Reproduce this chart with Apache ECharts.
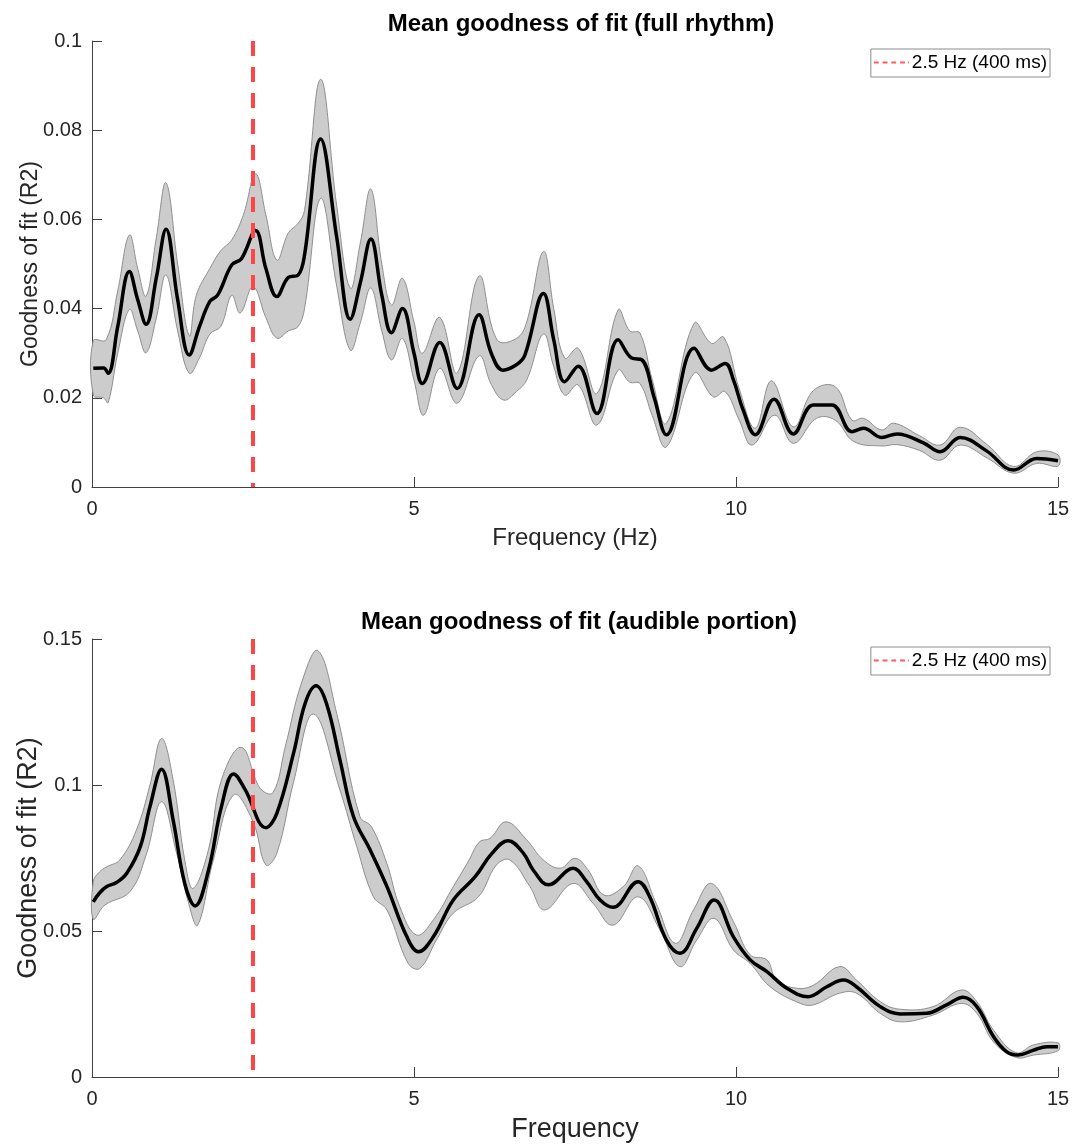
<!DOCTYPE html>
<html>
<head>
<meta charset="utf-8">
<script src="https://cdn.jsdelivr.net/npm/echarts@6/dist/echarts.min.js"></script>
<style>
html,body{margin:0;padding:0;background:#fff;}
#chart{width:1079px;height:1146px;}
</style>
</head>
<body>
<div id="chart"></div>
<script>
// ---------- Labels ----------
const titleTop = 'Mean goodness of fit (full rhythm)';
const titleBottom = 'Mean goodness of fit (audible portion)';
const yName = 'Goodness of fit (R2)';
const xNameTop = 'Frequency (Hz)';
const xNameBottom = 'Frequency';
const refName = '2.5 Hz (400 ms)';
const refFreq = 2.5;

// ---------- Top panel (full rhythm): [frequency, R2] ----------
const topMean = [
  [0.02,0.0266],[0.18,0.0267],[0.25,0.0255],[0.40,0.0360],[0.58,0.0483],[0.71,0.0420],[0.84,0.0365],
  [1.00,0.0470],[1.15,0.0578],[1.33,0.0420],[1.51,0.0296],[1.67,0.0360],[1.83,0.0416],[1.95,0.0430],
  [2.17,0.0498],[2.32,0.0512],[2.54,0.0575],[2.70,0.0490],[2.87,0.0427],[3.05,0.0470],[3.20,0.0475],
  [3.30,0.0520],[3.55,0.0780],[3.80,0.0560],[4.01,0.0376],[4.17,0.0460],[4.33,0.0556],[4.50,0.0430],
  [4.65,0.0346],[4.82,0.0400],[5.00,0.0300],[5.13,0.0232],[5.40,0.0324],[5.67,0.0221],[6.01,0.0386],
  [6.20,0.0300],[6.38,0.0262],[6.59,0.0274],[6.72,0.0295],[7.01,0.0434],[7.17,0.0330],[7.34,0.0236],
  [7.55,0.0271],[7.84,0.0165],[8.17,0.0330],[8.38,0.0289],[8.54,0.0285],[8.73,0.0200],[8.92,0.0117],
  [9.35,0.0311],[9.62,0.0262],[9.83,0.0277],[9.96,0.0240],[10.11,0.0173],[10.30,0.0117],[10.59,0.0197],
  [10.89,0.0119],[11.20,0.0184],[11.49,0.0184],[11.80,0.0124],[11.98,0.0132],[12.26,0.0111],[12.50,0.0119],
  [12.91,0.0099],[13.17,0.0079],[13.48,0.0111],[13.89,0.0081],[14.31,0.0038],[14.67,0.0064],[15.00,0.0059]
];
const topUpper = [
  [0.02,0.0328],[0.22,0.0330],[0.40,0.0440],[0.58,0.0565],[0.71,0.0490],[0.84,0.0428],[1.00,0.0560],
  [1.15,0.0682],[1.33,0.0500],[1.51,0.0339],[1.62,0.0430],[1.83,0.0490],[2.00,0.0530],[2.17,0.0554],
  [2.35,0.0610],[2.54,0.0702],[2.70,0.0610],[2.87,0.0509],[3.05,0.0570],[3.20,0.0591],[3.30,0.0620],
  [3.55,0.0914],[3.80,0.0630],[4.01,0.0446],[4.17,0.0550],[4.33,0.0668],[4.50,0.0500],[4.65,0.0408],
  [4.82,0.0468],[5.00,0.0370],[5.13,0.0300],[5.40,0.0380],[5.67,0.0256],[6.01,0.0473],[6.29,0.0330],
  [6.59,0.0333],[6.75,0.0370],[7.01,0.0528],[7.17,0.0400],[7.34,0.0289],[7.55,0.0311],[7.84,0.0210],
  [8.17,0.0397],[8.35,0.0350],[8.51,0.0345],[8.70,0.0240],[8.92,0.0143],[9.35,0.0367],[9.62,0.0322],
  [9.81,0.0336],[10.05,0.0220],[10.30,0.0132],[10.55,0.0238],[10.89,0.0135],[11.20,0.0216],[11.54,0.0225],
  [11.80,0.0150],[11.98,0.0154],[12.26,0.0128],[12.45,0.0143],[12.85,0.0115],[13.17,0.0094],[13.48,0.0134],
  [13.90,0.0095],[14.31,0.0046],[14.67,0.0079],[15.00,0.0072]
];
const topLower = [
  [0.02,0.0206],[0.18,0.0200],[0.25,0.0189],[0.40,0.0300],[0.58,0.0398],[0.71,0.0350],[0.84,0.0301],
  [1.00,0.0380],[1.15,0.0475],[1.33,0.0350],[1.51,0.0255],[1.67,0.0290],[1.83,0.0343],[2.00,0.0360],
  [2.17,0.0430],[2.30,0.0390],[2.50,0.0449],[2.70,0.0380],[2.87,0.0334],[3.05,0.0350],[3.20,0.0360],
  [3.30,0.0400],[3.55,0.0647],[3.80,0.0450],[4.01,0.0307],[4.17,0.0370],[4.33,0.0446],[4.50,0.0350],
  [4.65,0.0285],[4.82,0.0333],[5.00,0.0240],[5.15,0.0161],[5.40,0.0266],[5.67,0.0188],[6.01,0.0294],
  [6.20,0.0230],[6.39,0.0195],[6.59,0.0214],[6.75,0.0240],[7.01,0.0343],[7.17,0.0270],[7.34,0.0206],
  [7.55,0.0229],[7.84,0.0139],[8.17,0.0262],[8.35,0.0235],[8.51,0.0232],[8.70,0.0160],[8.92,0.0090],
  [9.35,0.0255],[9.65,0.0202],[9.83,0.0214],[10.05,0.0150],[10.25,0.0094],[10.60,0.0161],[10.89,0.0098],
  [11.25,0.0154],[11.54,0.0150],[11.83,0.0102],[12.26,0.0092],[12.50,0.0095],[12.85,0.0082],[13.17,0.0060],
  [13.48,0.0094],[13.90,0.0065],[14.31,0.0031],[14.67,0.0053],[15.00,0.0047]
];

// ---------- Bottom panel (audible portion): [frequency, R2] ----------
const botMean = [
  [0.02,0.0600],[0.12,0.0631],[0.23,0.0652],[0.38,0.0666],[0.54,0.0698],[0.75,0.0789],[0.90,0.0926],
  [1.08,0.1054],[1.26,0.0880],[1.44,0.0663],[1.60,0.0586],[1.81,0.0709],[2.01,0.0926],[2.20,0.1038],
  [2.38,0.0983],[2.70,0.0854],[2.87,0.0903],[3.13,0.1109],[3.31,0.1280],[3.48,0.1340],[3.64,0.1280],
  [3.85,0.1086],[4.06,0.0892],[4.32,0.0777],[4.58,0.0652],[4.89,0.0480],[5.07,0.0429],[5.30,0.0480],
  [5.61,0.0606],[5.95,0.0686],[6.21,0.0766],[6.46,0.0809],[6.70,0.0766],[6.85,0.0709],[7.09,0.0658],
  [7.47,0.0715],[7.68,0.0669],[7.89,0.0606],[8.09,0.0581],[8.48,0.0669],[8.66,0.0617],[8.92,0.0469],
  [9.13,0.0424],[9.39,0.0509],[9.66,0.0606],[9.96,0.0480],[10.22,0.0401],[10.48,0.0361],[10.79,0.0304],
  [11.12,0.0275],[11.41,0.0309],[11.67,0.0332],[11.87,0.0309],[12.24,0.0241],[12.55,0.0216],[12.96,0.0218],
  [13.27,0.0247],[13.53,0.0273],[13.74,0.0241],[14.00,0.0138],[14.20,0.0087],[14.38,0.0075],[14.62,0.0092],
  [14.83,0.0104],[15.00,0.0104]
];
const botUpper = [
  [0.02,0.0669],[0.12,0.0703],[0.23,0.0720],[0.43,0.0743],[0.69,0.0846],[0.90,0.1000],[1.08,0.1159],
  [1.26,0.1017],[1.44,0.0743],[1.57,0.0646],[1.81,0.0780],[2.01,0.1017],[2.32,0.1129],[2.61,0.0989],
  [2.81,0.0974],[3.00,0.1130],[3.26,0.1354],[3.51,0.1460],[3.80,0.1245],[4.16,0.0892],[4.34,0.0857],
  [4.58,0.0730],[4.78,0.0583],[5.04,0.0486],[5.30,0.0538],[5.61,0.0652],[5.84,0.0737],[6.02,0.0806],
  [6.18,0.0817],[6.43,0.0874],[6.75,0.0812],[7.01,0.0743],[7.27,0.0715],[7.50,0.0749],[7.70,0.0710],
  [7.95,0.0623],[8.25,0.0652],[8.48,0.0723],[8.76,0.0595],[9.06,0.0458],[9.34,0.0572],[9.62,0.0663],
  [9.96,0.0532],[10.22,0.0418],[10.48,0.0401],[10.63,0.0332],[10.94,0.0304],[11.20,0.0314],[11.61,0.0378],
  [11.87,0.0332],[12.24,0.0258],[12.55,0.0232],[13.06,0.0241],[13.50,0.0298],[13.74,0.0258],[14.00,0.0160],
  [14.35,0.0083],[14.62,0.0110],[15.00,0.0117]
];
const botLower = [
  [0.02,0.0540],[0.20,0.0589],[0.59,0.0635],[0.84,0.0760],[1.08,0.0943],[1.31,0.0770],[1.50,0.0595],
  [1.64,0.0520],[1.88,0.0740],[2.20,0.0966],[2.50,0.0875],[2.70,0.0726],[2.87,0.0766],[3.13,0.1010],
  [3.44,0.1243],[3.85,0.0983],[4.11,0.0790],[4.37,0.0617],[4.58,0.0572],[4.91,0.0389],[5.09,0.0372],
  [5.35,0.0470],[5.61,0.0561],[6.00,0.0617],[6.28,0.0726],[6.49,0.0743],[6.80,0.0652],[7.03,0.0572],
  [7.47,0.0663],[7.78,0.0595],[8.09,0.0520],[8.48,0.0617],[8.82,0.0503],[9.13,0.0378],[9.39,0.0469],
  [9.66,0.0543],[9.96,0.0435],[10.22,0.0389],[10.53,0.0309],[11.00,0.0252],[11.20,0.0247],[11.61,0.0287],
  [11.87,0.0287],[12.24,0.0218],[12.55,0.0189],[13.06,0.0212],[13.50,0.0252],[13.74,0.0218],[14.00,0.0120],
  [14.35,0.0067],[14.62,0.0075],[15.00,0.0090]
];

// ---------- Axis ranges / ticks ----------
const xMin = 0, xMax = 15, xStep = 5;
const topYMax = 0.1, topYStep = 0.02;
const botYMax = 0.15, botYStep = 0.05;

const FONT = '"Liberation Sans", Arial, Helvetica, sans-serif';
const AX = '#404040';
const TXT = '#262626';

function xAxisCfg(gi, name, nameSize) {
  return {
    type: 'value', gridIndex: gi, min: xMin, max: xMax, interval: xStep,
    name: name, nameLocation: 'middle', nameGap: 39,
    nameTextStyle: { fontSize: nameSize, color: TXT, fontFamily: FONT },
    axisLine: { show: true, lineStyle: { color: AX, width: 1 } },
    axisTick: { show: true, inside: true, length: 10, lineStyle: { color: AX } },
    axisLabel: { fontSize: 20, color: TXT, margin: 12, fontFamily: FONT },
    splitLine: { show: false }
  };
}
function yAxisCfg(gi, max, step, nameSize) {
  return {
    type: 'value', gridIndex: gi, min: 0, max: max, interval: step,
    name: yName, nameLocation: 'middle', nameGap: 50, nameMoveOverlap: false,
    nameTextStyle: { fontSize: nameSize, color: TXT, fontFamily: FONT },
    axisLine: { show: true, lineStyle: { color: AX, width: 1 } },
    axisTick: { show: true, inside: true, length: 10, lineStyle: { color: AX } },
    axisLabel: { fontSize: 20, color: TXT, margin: 10, fontFamily: FONT },
    splitLine: { show: false }
  };
}
function bandSeries(gi, upper, lower) {
  return {
    type: 'custom', xAxisIndex: gi, yAxisIndex: gi, silent: true, z: 1,
    data: [[upper[0][0], upper[0][1]]],
    renderItem: function (params, api) {
      const pts = upper.map(p => api.coord(p)).concat(lower.slice().reverse().map(p => api.coord(p)));
      return {
        type: 'polygon',
        shape: { points: pts, smooth: 0.4 },
        style: { fill: '#cccccc', stroke: '#8f8f8f', lineWidth: 1 }
      };
    }
  };
}
function meanSeries(gi, data) {
  return {
    type: 'line', xAxisIndex: gi, yAxisIndex: gi, data: data, smooth: 0.4,
    symbol: 'none', showSymbol: false, silent: true, z: 3,
    lineStyle: { color: '#000000', width: 3.5 }
  };
}
function refSeries(gi, ymax) {
  return {
    type: 'line', name: refName, xAxisIndex: gi, yAxisIndex: gi,
    data: [[refFreq, ymax], [refFreq, 0]], symbol: 'none', showSymbol: false, silent: true, z: 5,
    color: '#ff4646',
    lineStyle: { color: '#ff4646', width: 4, type: [15, 11] }
  };
}
function legendCfg(top) {
  return {
    data: [refName], right: 29, top: top, orient: 'horizontal',
    backgroundColor: '#ffffff', borderColor: '#8c8c8c', borderWidth: 1, borderRadius: 0,
    padding: [4, 3, 5, 3],
    icon: 'path://M0 0h5v2H0z M9 0h5v2H9z M18 0h5v2h-5z M27 0h5v2h-5z M35 0h1v2h-1z',
    itemWidth: 35, itemHeight: 2, itemGap: 0,
    itemStyle: { color: '#ff5a5a' },
    textStyle: { fontSize: 19, color: '#000', fontFamily: FONT, padding: [0, 0, 0, -2] },
    selectedMode: false
  };
}

const chart = echarts.init(document.getElementById('chart'), null, { renderer: 'canvas' });
chart.setOption({
  animation: false,
  backgroundColor: '#ffffff',
  textStyle: { fontFamily: FONT },
  title: [
    { text: titleTop, left: 581, top: 12, textAlign: 'center', padding: 0,
      textStyle: { fontSize: 24, fontWeight: 'bold', color: '#000', fontFamily: FONT } },
    { text: titleBottom, left: 579, top: 610, textAlign: 'center', padding: 0,
      textStyle: { fontSize: 24, fontWeight: 'bold', color: '#000', fontFamily: FONT } }
  ],
  legend: [legendCfg(49), legendCfg(647)],
  grid: [
    { left: 92, top: 41, width: 966, height: 446, containLabel: false, outerBoundsMode: 'none' },
    { left: 92, top: 639, width: 966, height: 438, containLabel: false, outerBoundsMode: 'none' }
  ],
  xAxis: [xAxisCfg(0, xNameTop, 24), xAxisCfg(1, xNameBottom, 27)],
  yAxis: [yAxisCfg(0, topYMax, topYStep, 23), yAxisCfg(1, botYMax, botYStep, 27)],
  series: [
    bandSeries(0, topUpper, topLower),
    meanSeries(0, topMean),
    refSeries(0, topYMax),
    bandSeries(1, botUpper, botLower),
    meanSeries(1, botMean),
    refSeries(1, botYMax)
  ]
});
</script>
</body>
</html>
